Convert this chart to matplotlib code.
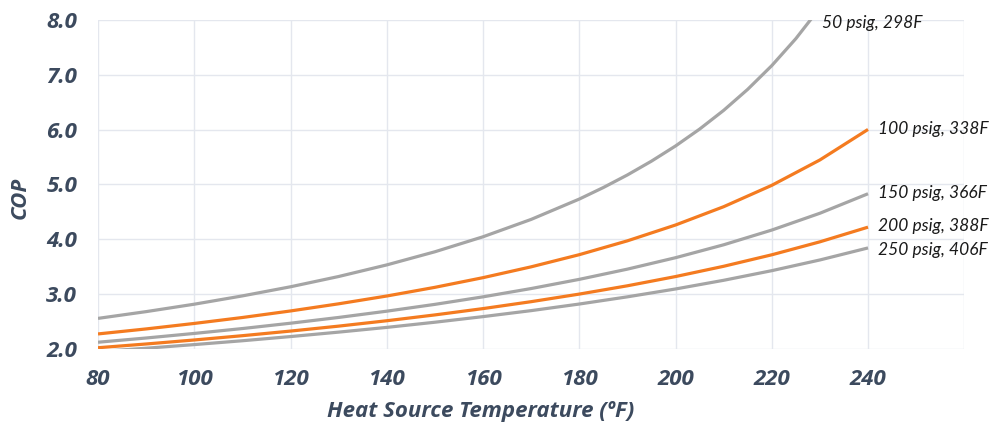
import matplotlib
matplotlib.use("Agg")
import matplotlib.pyplot as plt

temps = [80, 90, 100, 110, 120, 130, 140, 150, 160, 170, 180, 190, 200, 210, 220, 230, 240]
temps_50 = [80, 90, 100, 110, 120, 130, 140, 150, 160, 170, 180, 185, 190, 195, 200, 205, 210, 215, 220, 225, 230]

cop_50 = [2.563, 2.686, 2.821, 2.972, 3.138, 3.325, 3.536, 3.775, 4.048, 4.364, 4.734, 4.944, 5.173, 5.424,
          5.700, 6.007, 6.348, 6.731, 7.162, 7.653, 8.215]
cop_100 = [2.280, 2.371, 2.471, 2.579, 2.698, 2.828, 2.970, 3.128, 3.304, 3.501, 3.722, 3.974, 4.262, 4.595, 4.984, 5.446, 6.001]
cop_150 = [2.129, 2.206, 2.289, 2.378, 2.475, 2.580, 2.694, 2.818, 2.955, 3.106, 3.273, 3.459, 3.667, 3.902, 4.170, 4.476, 4.831]
cop_200 = [2.029, 2.097, 2.170, 2.248, 2.332, 2.422, 2.520, 2.626, 2.741, 2.867, 3.005, 3.156, 3.324, 3.511, 3.720, 3.956, 4.223]
cop_250 = [1.958, 2.020, 2.086, 2.156, 2.232, 2.313, 2.399, 2.493, 2.595, 2.704, 2.824, 2.955, 3.098, 3.256, 3.431, 3.626, 3.845]

labels = ["50 psig, 298F", "100 psig, 338F", "150 psig, 366F", "200 psig, 388F", "250 psig, 406F"]
xticks = [80, 100, 120, 140, 160, 180, 200, 220, 240, 260]
xtick_labels = ["80", "100", "120", "140", "160", "180", "200", "220", "240", ""]
yticks = [2.0, 3.0, 4.0, 5.0, 6.0, 7.0, 8.0]

GRAY = "#a5a5a5"
ORANGE = "#f47b20"
TICK = "#3c4a5e"

plt.rcParams['font.family'] = ['Open Sans', 'DejaVu Sans']

fig = plt.figure(figsize=(9.98, 4.26), dpi=100)
ax = fig.add_axes([0.0982, 0.180, 0.868, 0.774])

series = [
    (temps_50, cop_50, GRAY),
    (temps, cop_100, ORANGE),
    (temps, cop_150, GRAY),
    (temps, cop_200, ORANGE),
    (temps, cop_250, GRAY),
]
for (xs, ys, c) in series:
    ax.plot(xs, ys, color=c, lw=2.3, solid_capstyle='butt', solid_joinstyle='round', zorder=3)

ax.set_xlim(80, 260)
ax.set_ylim(2.0, 8.0)
ax.set_xticks(xticks)
ax.set_xticklabels(xtick_labels)
ax.set_yticks(yticks)
ax.set_yticklabels([f"{v:.1f}" for v in yticks])
ax.grid(True, color="#e4e7ee", lw=1.0, zorder=0)
ax.set_axisbelow(True)
for s in ax.spines.values():
    s.set_visible(False)
ax.tick_params(length=0)
ax.tick_params(axis='x', pad=14)
ax.tick_params(axis='y', pad=15)
for t in ax.get_xticklabels() + ax.get_yticklabels():
    t.set_fontsize(16)
    t.set_fontweight('bold')
    t.set_fontstyle('italic')
    t.set_color(TICK)

fig.text(0.482, 1 - 412 / 426, "Heat Source Temperature (ºF)", ha='center', va='center',
         fontsize=16, fontweight='bold', fontstyle='italic', color=TICK)
fig.text(20 / 998, 1 - 198 / 426, "COP", ha='center', va='center', rotation=90,
         fontsize=16, fontweight='bold', fontstyle='italic', color=TICK)

# end labels
ends = [
    (227.6, 8.0, labels[0], 14, -3),
    (temps[-1], cop_100[-1], labels[1], 10, 0),
    (temps[-1], cop_150[-1], labels[2], 10, 1),
    (temps[-1], cop_200[-1], labels[3], 10, 1),
    (temps[-1], cop_250[-1], labels[4], 10, -2),
]
for x, y, lab, dx, dy in ends:
    ax.annotate(lab, xy=(x, y), xytext=(dx, dy), textcoords='offset pixels',
                ha='left', va='center', fontsize=12.5, fontstyle='italic',
                family=['Lato', 'DejaVu Sans'],
                color="#1a1a1a", annotation_clip=False)

fig.savefig("out.png", dpi=100)
